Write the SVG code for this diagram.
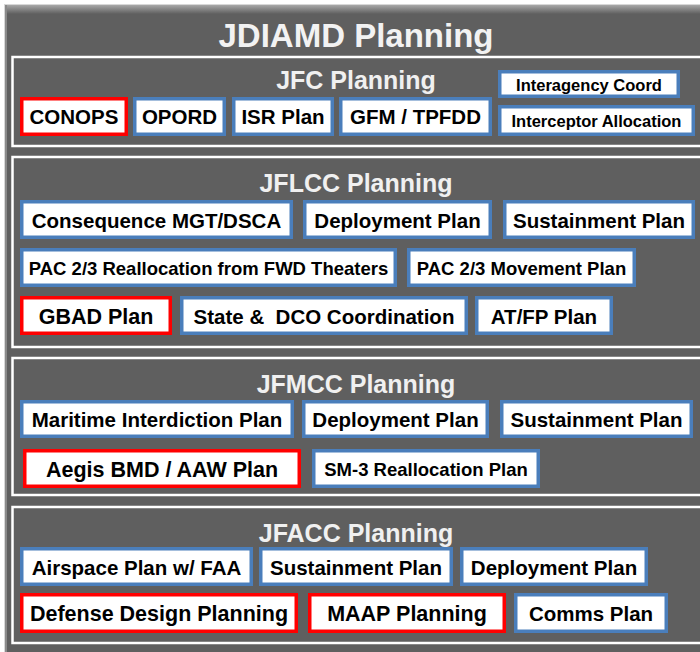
<svg xmlns="http://www.w3.org/2000/svg" width="700" height="652" viewBox="0 0 700 652">
<defs>
<linearGradient id="topg" x1="0" y1="0" x2="0" y2="1">
<stop offset="0" stop-color="#a8a8a8"/>
<stop offset="1" stop-color="#5f5f5f"/>
</linearGradient>
<style>
.sec{fill:none;stroke:#ffffff;stroke-width:2.5}
.secT{font-family:"Liberation Sans",Arial,sans-serif;font-weight:bold;font-size:25px;fill:#f0f0f0;text-anchor:middle}
.b{fill:#ffffff;stroke:#4a7ebb;stroke-width:3.5}
.r{fill:#ffffff;stroke:#ff0000;stroke-width:3.5}
.t{font-family:"Liberation Sans",Arial,sans-serif;font-weight:bold;font-size:20.5px;fill:#000000;text-anchor:middle;white-space:pre}
.s{font-size:18.5px}
.xs{font-size:16.5px}
.l{font-size:21.5px}
</style>
</defs>
<rect x="0" y="0" width="700" height="652" fill="#ffffff"/>
<rect x="4" y="4" width="700" height="652" fill="#d8d8d8"/>
<rect x="5" y="5" width="700" height="652" fill="#5f5f5f"/>
<rect x="5" y="5" width="700" height="9" fill="url(#topg)"/>
<rect x="5" y="5" width="2" height="652" fill="#8a8a8a"/>
<text x="356" y="47" font-family="'Liberation Sans',Arial,sans-serif" font-weight="bold" font-size="33" fill="#f2f2f2" text-anchor="middle">JDIAMD Planning</text>

<g id="sections">
<rect class="sec" x="12.5" y="57" width="700" height="89"/>
<rect class="sec" x="12.5" y="157" width="700" height="190"/>
<rect class="sec" x="12.5" y="358" width="700" height="137"/>
<rect class="sec" x="12.5" y="507" width="700" height="136"/>
<text class="secT" x="356" y="89">JFC Planning</text>
<text class="secT" x="356" y="192">JFLCC Planning</text>
<text class="secT" x="356" y="393">JFMCC Planning</text>
<text class="secT" x="356" y="542">JFACC Planning</text>
</g>

<g id="connectors"></g>

<!-- JFC -->
<g id="conops"><rect class="r" x="21.75" y="98.75" width="104.5" height="35.5"/><text class="t" x="74" y="124">CONOPS</text></g>
<g id="opord"><rect class="b" x="134.75" y="98.75" width="89.5" height="35.5"/><text class="t" x="179.5" y="124">OPORD</text></g>
<g id="isr"><rect class="b" x="233.75" y="98.75" width="98.5" height="35.5"/><text class="t" x="283" y="124">ISR Plan</text></g>
<g id="gfm"><rect class="b" x="340.75" y="98.75" width="149.5" height="35.5"/><text class="t" x="415.5" y="124">GFM / TPFDD</text></g>
<g id="interagency"><rect class="b" x="499.75" y="71.75" width="178.5" height="24.5"/><text class="t xs" x="589" y="90.5">Interagency Coord</text></g>
<g id="interceptor"><rect class="b" x="499.75" y="106.75" width="193.5" height="27.5"/><text class="t xs" x="596.5" y="126.5">Interceptor Allocation</text></g>

<!-- JFLCC -->
<g id="consequence"><rect class="b" x="21.75" y="201.75" width="269.5" height="35.5"/><text class="t" x="156.5" y="227.5">Consequence MGT/DSCA</text></g>
<g id="lcc-deploy"><rect class="b" x="304.75" y="201.75" width="185.5" height="35.5"/><text class="t" x="397.5" y="227.5">Deployment Plan</text></g>
<g id="lcc-sustain"><rect class="b" x="504.75" y="201.75" width="188.5" height="35.5"/><text class="t" x="599" y="227.5">Sustainment Plan</text></g>
<g id="pac-realloc"><rect class="b" x="21.75" y="249.75" width="373.5" height="35.5"/><text class="t s" x="208.5" y="274.5">PAC 2/3 Reallocation from FWD Theaters</text></g>
<g id="pac-move"><rect class="b" x="408.75" y="249.75" width="225.5" height="35.5"/><text class="t s" x="521.5" y="274.5">PAC 2/3 Movement Plan</text></g>
<g id="gbad"><rect class="r" x="21.75" y="297.75" width="148.5" height="35.5"/><text class="t l" x="96" y="324">GBAD Plan</text></g>
<g id="state-dco"><rect class="b" x="181.75" y="297.75" width="284.5" height="35.5"/><text class="t" x="324" y="323.5" xml:space="preserve">State &amp;  DCO Coordination</text></g>
<g id="atfp"><rect class="b" x="476.75" y="297.75" width="134.5" height="35.5"/><text class="t" x="544" y="323.5">AT/FP Plan</text></g>

<!-- JFMCC -->
<g id="maritime"><rect class="b" x="21.75" y="401.75" width="270.5" height="34.5"/><text class="t" x="157" y="427">Maritime Interdiction Plan</text></g>
<g id="mcc-deploy"><rect class="b" x="303.75" y="401.75" width="183.5" height="34.5"/><text class="t" x="395.5" y="427">Deployment Plan</text></g>
<g id="mcc-sustain"><rect class="b" x="501.75" y="401.75" width="189.5" height="34.5"/><text class="t" x="596.5" y="427">Sustainment Plan</text></g>
<g id="aegis"><rect class="r" x="24.75" y="450.75" width="274.5" height="35.5"/><text class="t l" x="162" y="477">Aegis BMD / AAW Plan</text></g>
<g id="sm3"><rect class="b" x="313.75" y="450.75" width="224.5" height="35.5"/><text class="t s" x="426" y="475.5">SM-3 Reallocation Plan</text></g>

<!-- JFACC -->
<g id="airspace"><rect class="b" x="21.75" y="548.75" width="229.5" height="35.5"/><text class="t" x="136.5" y="574.5">Airspace Plan w/ FAA</text></g>
<g id="acc-sustain"><rect class="b" x="260.75" y="548.75" width="190.5" height="35.5"/><text class="t" x="356" y="574.5">Sustainment Plan</text></g>
<g id="acc-deploy"><rect class="b" x="461.75" y="548.75" width="184.5" height="35.5"/><text class="t" x="554" y="574.5">Deployment Plan</text></g>
<g id="defense-design"><rect class="r" x="21.75" y="594.75" width="274.5" height="36.5"/><text class="t l" x="159" y="621">Defense Design Planning</text></g>
<g id="maap"><rect class="r" x="309.75" y="594.75" width="194.5" height="36.5"/><text class="t l" x="407" y="621">MAAP Planning</text></g>
<g id="comms"><rect class="b" x="515.75" y="594.75" width="150.5" height="36.5"/><text class="t" x="591" y="620.5">Comms Plan</text></g>
</svg>
